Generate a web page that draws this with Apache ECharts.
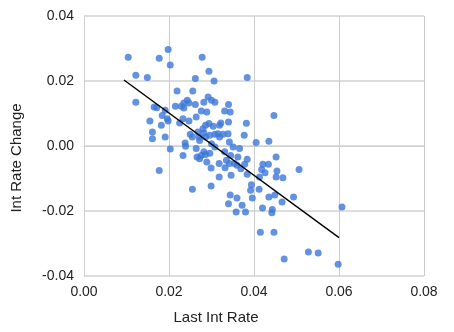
<!DOCTYPE html>
<html>
<head>
<meta charset="utf-8">
<style>
  html, body { margin: 0; padding: 0; background: #ffffff; }
  #chart { width: 454px; height: 332px; }
</style>
<script src="https://cdn.jsdelivr.net/npm/echarts@6/dist/echarts.min.js"></script>
</head>
<body>
<div id="chart"></div>
<script>
// Last interest rate (x) and the following change (y), one entry per observation
const lastIntRate = [
  0.0104, 0.0122, 0.0149, 0.0122, 0.0177, 0.0198, 0.0203, 0.0278, 0.0294, 0.0262,
  0.0306, 0.0384, 0.0219, 0.0256, 0.0165, 0.0171, 0.0155, 0.0161, 0.0161, 0.0184,
  0.0182, 0.0191, 0.0196, 0.0198, 0.0191, 0.0177, 0.0203, 0.0215, 0.0229, 0.0235,
  0.0243, 0.0247, 0.0235, 0.0225, 0.0233, 0.0247, 0.0262, 0.0276, 0.0282, 0.0292,
  0.0300, 0.0308, 0.0289, 0.0264, 0.0340, 0.0331, 0.0344, 0.0340, 0.0382, 0.0322,
  0.0319, 0.0286, 0.0294, 0.0304, 0.0250, 0.0255, 0.0271, 0.0282, 0.0272, 0.0286,
  0.0296, 0.0308, 0.0315, 0.0327, 0.0319, 0.0377, 0.0238, 0.0239, 0.0264, 0.0233,
  0.0255, 0.0300, 0.0308, 0.0282, 0.0276, 0.0266, 0.0272, 0.0286, 0.0296, 0.0289,
  0.0299, 0.0318, 0.0318, 0.0299, 0.0342, 0.0351, 0.0366, 0.0345, 0.0331, 0.0335,
  0.0342, 0.0332, 0.0354, 0.0362, 0.0360, 0.0369, 0.0378, 0.0384, 0.0384, 0.0346,
  0.0405, 0.0435, 0.0447, 0.0452, 0.0421, 0.0434, 0.0418, 0.0426, 0.0454, 0.0452,
  0.0468, 0.0506, 0.0413, 0.0394, 0.0392, 0.0412, 0.0396, 0.0344, 0.0340, 0.0360,
  0.0372, 0.0358, 0.0380, 0.0435, 0.0449, 0.0466, 0.0493, 0.0420, 0.0443, 0.0442,
  0.0415, 0.0447, 0.0471, 0.0528, 0.0551, 0.0598, 0.0607, 0.0280, 0.0339, 0.0268
];
const intRateChange = [
  0.0273, 0.0218, 0.0211, 0.0135, 0.0270, 0.0297, 0.0249, 0.0273, 0.0230, 0.0208,
  0.0200, 0.0211, 0.0169, 0.0169, 0.0120, 0.0118, 0.0077, 0.0043, 0.0022, 0.0094,
  0.0064, 0.0110, 0.0084, 0.0077, 0.0028, -0.0075, -0.0009, 0.0122, 0.0122, 0.0132,
  0.0141, 0.0132, 0.0117, 0.0071, 0.0084, 0.0077, 0.0128, 0.0108, 0.0135, 0.0151,
  0.0141, 0.0135, 0.0105, 0.0089, 0.0128, 0.0108, 0.0105, 0.0074, 0.0070, 0.0071,
  0.0064, 0.0064, 0.0069, 0.0061, 0.0036, 0.0028, 0.0028, 0.0040, 0.0017, 0.0028,
  0.0033, 0.0036, 0.0038, 0.0036, 0.0028, 0.0033, 0.0009, -0.0001, -0.0008, -0.0029,
  -0.0133, 0.0007, -0.0003, -0.0018, -0.0029, -0.0034, -0.0039, -0.0026, -0.0022, -0.0049,
  -0.0068, -0.0054, -0.0095, -0.0123, 0.0012, -0.0003, -0.0008, -0.0029, -0.0018, -0.0044,
  -0.0054, -0.0067, -0.0054, -0.0034, -0.0059, -0.0070, -0.0056, -0.0041, -0.0087, -0.0090,
  0.0011, 0.0015, 0.0094, -0.0034, -0.0056, -0.0056, -0.0072, -0.0082, -0.0077, -0.0095,
  -0.0098, -0.0072, -0.0095, -0.0119, -0.0136, -0.0133, -0.0160, -0.0151, -0.0178, -0.0160,
  -0.0182, -0.0203, -0.0203, -0.0157, -0.0151, -0.0172, -0.0157, -0.0191, -0.0195, -0.0205,
  -0.0265, -0.0265, -0.0348, -0.0326, -0.0329, -0.0364, -0.0188, 0.0053, 0.0038, 0.0043
];

// Fitted linear trend, start and end points
const trendX = [0.0094, 0.0600];
const trendY = [0.0203, -0.0282];

// Axis ranges and step
const xRange = [0, 0.08];
const yRange = [-0.04, 0.04];
const tickStep = 0.02;

const points = lastIntRate.map((x, i) => [x, intRateChange[i]]);
const trend = trendX.map((x, i) => [x, trendY[i]]);

const font = 'Liberation Sans, Arial, sans-serif';
const chart = echarts.init(document.getElementById('chart'), null, { renderer: 'canvas' });

chart.setOption({
  backgroundColor: '#ffffff',
  animation: false,
  grid: { left: 84, right: 30, top: 16, bottom: 56, containLabel: false },
  xAxis: {
    type: 'value',
    min: xRange[0], max: xRange[1], interval: tickStep,
    name: 'Last Int Rate',
    nameLocation: 'middle',
    nameGap: 34,
    nameTextStyle: { fontFamily: font, fontSize: 15, color: '#222', padding: [0, 76, 0, 0] },
    axisLine: { show: true, lineStyle: { color: '#cfcfcf', width: 1 } },
    axisTick: { show: false },
    axisLabel: {
      fontFamily: font, fontSize: 14, color: '#222', margin: 9,
      formatter: v => v.toFixed(2)
    },
    splitLine: { show: true, lineStyle: { color: '#cccccc', width: 1 } }
  },
  yAxis: {
    type: 'value',
    min: yRange[0], max: yRange[1], interval: tickStep,
    name: 'Int Rate Change',
    nameLocation: 'middle',
    nameGap: 60,
    nameTextStyle: { fontFamily: font, fontSize: 15, color: '#222', padding: [0, 24, 0, 0] },
    axisLine: { show: true, lineStyle: { color: '#cfcfcf', width: 1 } },
    axisTick: { show: false },
    axisLabel: {
      fontFamily: font, fontSize: 14, color: '#222', margin: 10,
      formatter: v => v.toFixed(2)
    },
    splitLine: { show: true, lineStyle: { color: '#dddddd', width: 2 } }
  },
  series: [
    {
      type: 'scatter',
      data: points,
      symbol: 'circle',
      symbolSize: 7,
      itemStyle: { color: '#3c78d8' },
      z: 2
    },
    {
      type: 'line',
      data: trend,
      showSymbol: false,
      symbol: 'none',
      lineStyle: { color: '#000000', width: 1.4 },
      z: 3
    }
  ]
});
</script>
</body>
</html>
